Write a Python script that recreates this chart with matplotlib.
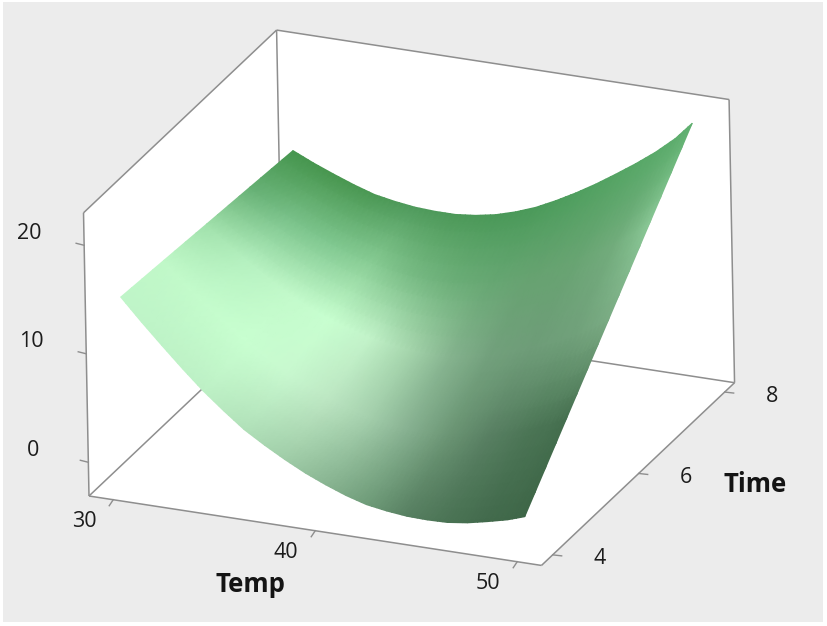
import numpy as np
import matplotlib
matplotlib.use("Agg")
import matplotlib.pyplot as plt
from matplotlib.colors import to_rgb

temp = [30, 31, 32, 33, 34, 35, 36, 37, 38, 39, 40, 41, 42, 43, 44, 45, 46, 47, 48, 49, 49.85]
time = [4, 5, 6, 7, 8]

# response, one row per time
response = [
    [14.5, 12.5, 10.6, 8.75, 7.0, 5.45, 4.0, 2.85, 1.8, 0.85, 0.05, -0.65, -1.2, -1.5, -1.7, -1.75, -1.7, -1.45, -1.05, -0.6, -0.07],
    [14.13, 12.42, 10.8, 9.24, 7.78, 6.53, 5.38, 4.49, 3.7, 3.04, 2.53, 2.14, 1.9, 1.9, 2.0, 2.24, 2.58, 3.08, 3.72, 4.44, 5.25],
    [13.75, 12.33, 11.0, 9.73, 8.55, 7.6, 6.75, 6.13, 5.6, 5.23, 5.0, 4.93, 5.0, 5.3, 5.7, 6.23, 6.85, 7.6, 8.48, 9.48, 10.57],
    [13.38, 12.24, 11.2, 10.22, 9.33, 8.68, 8.13, 7.77, 7.5, 7.42, 7.48, 7.72, 8.1, 8.7, 9.4, 10.22, 11.13, 12.13, 13.24, 14.52, 15.89],
    [13.0, 12.15, 11.4, 10.7, 10.1, 9.75, 9.5, 9.4, 9.4, 9.6, 9.95, 10.5, 11.2, 12.1, 13.1, 14.2, 15.4, 16.65, 18.0, 19.55, 21.2],
]

# surface colour every second temp column, one row per time
surface_colours = [
    ["#bff5c8", "#bef3c7", "#bdf0c5", "#b0e0b8", "#9fcca7", "#88b491", "#6f9c79", "#577f61", "#4a7354", "#426a4c", "#3e6647"],
    ["#c0f8c8", "#c4fccc", "#c8ffd0", "#c8f8cf", "#bde7c3", "#a5d0ad", "#86b090", "#6b9574", "#587f62", "#4c7656", "#456f4f"],
    ["#a0e0ab", "#b4f0bf", "#c2f9ca", "#c8ffd0", "#c2f3c9", "#a5d5ac", "#85b38e", "#72a07c", "#6e9c78", "#70a07a", "#7aab83"],
    ["#66b074", "#78c088", "#80c890", "#88cc94", "#78bb84", "#6cae78", "#66a672", "#66a270", "#68a472", "#72ac7c", "#8ac896"],
    ["#46964f", "#48964f", "#4b9854", "#4f9a5c", "#4c9858", "#4a9858", "#4b9a5a", "#4f9f5f", "#55a464", "#5aaa6a", "#60b070"],
]

temp_ticks = [30, 40, 50]
time_ticks = [4, 6, 8]
z_ticks = [0, 10, 20]

temp_lim = (28.8, 51.2)
time_lim = (3.74, 8.23)
z_lim = (-3.2, 22.9)

# oblique view: pixels per data unit along each axis
origin = np.array([89.0, 496.0])
v_temp = np.array([20.2, 3.1])
v_time = np.array([43.0, -40.7])
v_z = np.array([-0.21, -10.85])


def project(T, t, z):
    T, t, z = np.asarray(T, float), np.asarray(t, float), np.asarray(z, float)
    x = origin[0] + (T - temp_lim[0]) * v_temp[0] + (t - time_lim[0]) * v_time[0] + (z - z_lim[0]) * v_z[0]
    y = origin[1] + (T - temp_lim[0]) * v_temp[1] + (t - time_lim[0]) * v_time[1] + (z - z_lim[0]) * v_z[1]
    return x, y


def edge(ax, a, b):
    xa, ya = project(*a)
    xb, yb = project(*b)
    ax.plot([xa, xb], [ya, yb], color="#8e8e8e", lw=1.1, solid_capstyle="butt", zorder=2)


def split_cells(A, n=4):
    # cut each mesh cell in n so gouraud triangles leave no diagonal streaks
    rows = np.linspace(0, A.shape[0] - 1, (A.shape[0] - 1) * n + 1)
    cols = np.linspace(0, A.shape[1] - 1, (A.shape[1] - 1) * n + 1)
    A = np.apply_along_axis(lambda v: np.interp(rows, np.arange(len(v)), v), 0, A)
    A = np.apply_along_axis(lambda v: np.interp(cols, np.arange(len(v)), v), 1, A)
    return A


fig = plt.figure(figsize=(8.27, 6.26), dpi=100, facecolor="white")
ax = fig.add_axes([0, 0, 1, 1])
ax.set_xlim(0, 827)
ax.set_ylim(626, 0)
ax.axis("off")
ax.add_patch(plt.Rectangle((3, 2), 820, 620, facecolor="#ececec", edgecolor="none", zorder=0))

T0, T1 = temp_lim
t0, t1 = time_lim
z0, z1 = z_lim

# white walls and floor
outline = [(T0, t0, z1), (T0, t1, z1), (T1, t1, z1), (T1, t1, z0), (T1, t0, z0), (T0, t0, z0)]
px, py = zip(*[project(*c) for c in outline])
ax.fill(px, py, color="white", lw=0, zorder=1)

# box edges
edge(ax, (T0, t0, z1), (T0, t1, z1))
edge(ax, (T0, t1, z1), (T1, t1, z1))
edge(ax, (T0, t0, z0), (T0, t0, z1))
edge(ax, (T0, t1, z0), (T0, t1, z1))
edge(ax, (T1, t1, z0), (T1, t1, z1))
edge(ax, (T0, t0, z0), (T1, t0, z0))
edge(ax, (T1, t0, z0), (T1, t1, z0))
edge(ax, (T0, t0, z0), (T0, t1, z0))
edge(ax, (T0, t1, z0), (T1, t1, z0))

# surface, odd temp columns take the mean colour of their neighbours
TT, tt = np.meshgrid(temp, time)
X, Y = project(TT, tt, np.array(response))
coarse = np.array([[to_rgb(c) for c in row] for row in surface_colours])
C = np.zeros((len(time), len(temp), 3))
C[:, ::2] = coarse
C[:, 1::2] = (coarse[:, :-1] + coarse[:, 1:]) / 2
C = np.dstack([split_cells(C[:, :, i]) for i in range(3)])
ax.pcolormesh(split_cells(X), split_cells(Y), C, shading="gouraud", zorder=3)

# ticks and labels
tick_font = dict(family="Open Sans", fontsize=15.5, color="#1c1c1c", ha="center", va="center", zorder=5)
for z in z_ticks:
    x, y = project(T0, t0, z)
    ax.plot([x - 8, x], [y - 1, y + 1], color="#8e8e8e", lw=1.0, zorder=2)
    ax.text(x - 55, y - 11, str(z), **tick_font)
for T in temp_ticks:
    x, y = project(T, t0, z0)
    ax.plot([x - 4, x], [y + 6, y], color="#8e8e8e", lw=1.0, zorder=2)
    ax.text(x - 29, y + 22, str(T), **tick_font)
for t in time_ticks:
    x, y = project(T1, t, z0)
    ax.plot([x, x + 9], [y, y + 1], color="#8e8e8e", lw=1.0, zorder=2)
    ax.text(x + 47, y + 4, str(t), **tick_font)

label_font = dict(family="Open Sans", fontsize=18.5, fontweight="bold", color="#141414", ha="center", va="center", zorder=5)
ax.text(250, 584, "Temp", **label_font)
ax.text(755, 484, "Time", **label_font)

fig.savefig("out.png", dpi=100)
